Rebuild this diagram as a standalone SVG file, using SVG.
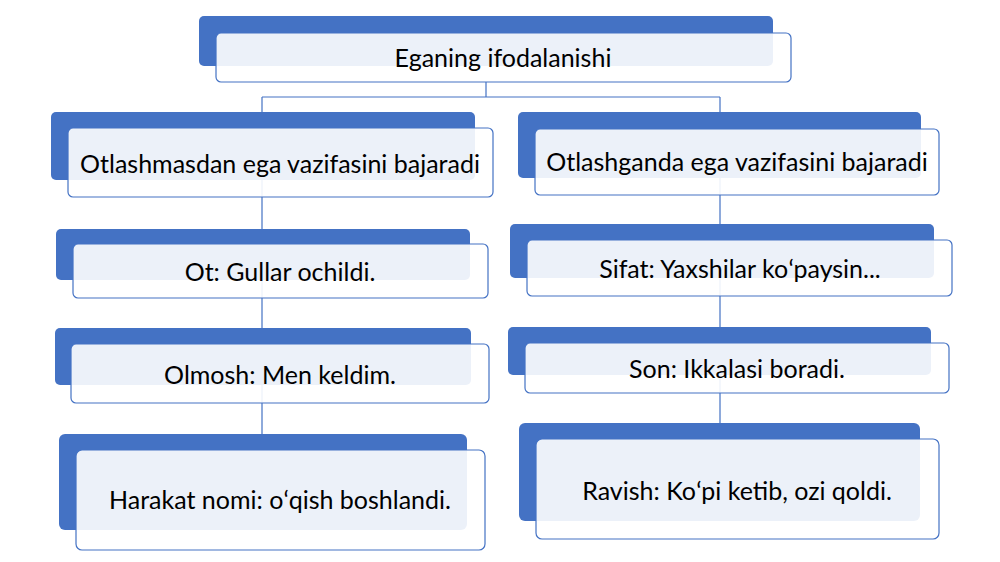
<svg xmlns="http://www.w3.org/2000/svg" width="1000" height="562" viewBox="0 0 1000 562">
<style>
.back{fill:#4472c4}
.front{fill:#ffffff;fill-opacity:0.9;stroke:#4472c4;stroke-width:1.2}
.lbl{font-family:Lato,"Open Sans",sans-serif;font-size:25px;fill:#000;text-anchor:middle}
.con{fill:none;stroke:#4472c4;stroke-width:1.2}
</style>
<rect width="1000" height="562" fill="#ffffff"/>
<g id="connectors">
<path class="con" d="M486 82V97M262 97H720M262 97V450M720 97V439"/>
</g>
<g id="root">
<rect class="back" x="199" y="16" width="574" height="50" rx="5"/>
<rect class="front" x="216" y="33" width="575" height="49" rx="5"/>
<text class="lbl" x="503" y="67">Eganing ifodalanishi</text>
</g>
<g id="l1">
<rect class="back" x="51" y="112" width="424" height="68" rx="5"/>
<rect class="front" x="68" y="128" width="425" height="69" rx="5"/>
<text class="lbl" x="280" y="173">Otlashmasdan ega vazifasini bajaradi</text>
</g>
<g id="l2">
<rect class="back" x="56" y="229" width="414" height="51" rx="5"/>
<rect class="front" x="73" y="244" width="415" height="54" rx="5"/>
<text class="lbl" x="280" y="281">Ot: Gullar ochildi.</text>
</g>
<g id="l3">
<rect class="back" x="55" y="328" width="416" height="57" rx="5"/>
<rect class="front" x="71" y="344" width="418" height="59" rx="5"/>
<text class="lbl" x="280" y="384">Olmosh: Men keldim.</text>
</g>
<g id="l4">
<rect class="back" x="59" y="434" width="408" height="96" rx="6"/>
<rect class="front" x="76" y="450" width="409" height="100" rx="6"/>
<text class="lbl" x="280" y="509">Harakat nomi: oʻqish boshlandi.</text>
</g>
<g id="r1">
<rect class="back" x="518" y="112" width="403" height="66" rx="5"/>
<rect class="front" x="535" y="129" width="404" height="66" rx="5"/>
<text class="lbl" x="737" y="171">Otlashganda ega vazifasini bajaradi</text>
</g>
<g id="r2">
<rect class="back" x="510" y="224" width="424" height="54" rx="5"/>
<rect class="front" x="527" y="240" width="425" height="56" rx="5"/>
<text class="lbl" x="740" y="278">Sifat: Yaxshilar koʻpaysin...</text>
</g>
<g id="r3">
<rect class="back" x="508" y="327" width="423" height="48" rx="5"/>
<rect class="front" x="525" y="343" width="424" height="50" rx="5"/>
<text class="lbl" x="737" y="378">Son: Ikkalasi boradi.</text>
</g>
<g id="r4">
<rect class="back" x="519" y="423" width="401" height="98" rx="6"/>
<rect class="front" x="536" y="439" width="403" height="100" rx="6"/>
<text class="lbl" x="737" y="500">Ravish: Koʻpi ketib, ozi qoldi.</text>
</g>
</svg>
